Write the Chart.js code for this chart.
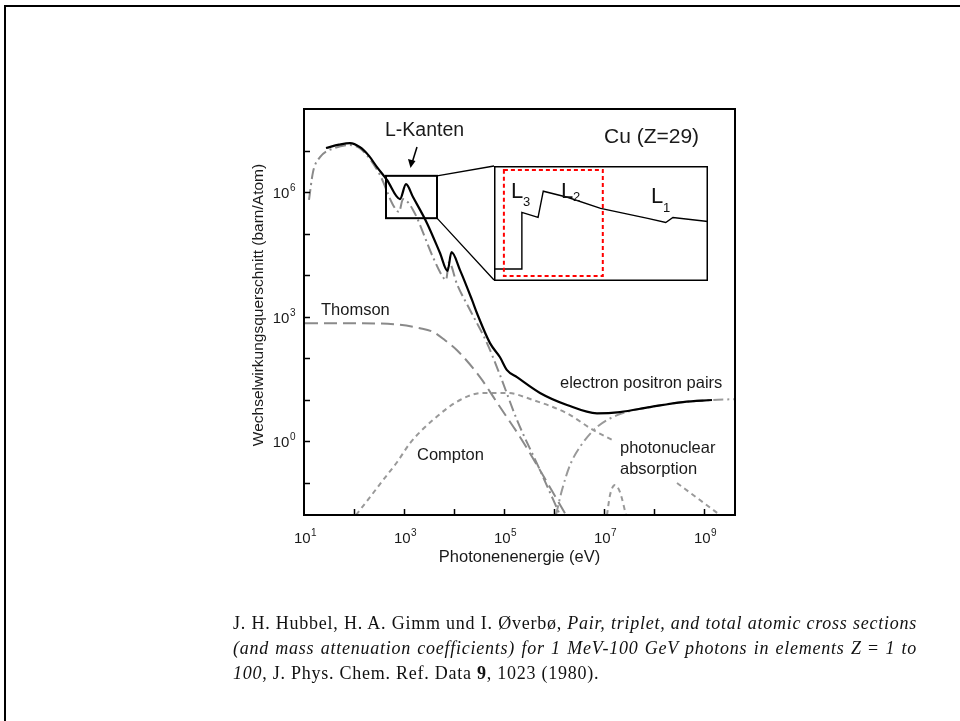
<!DOCTYPE html>
<html>
<head>
<meta charset="utf-8">
<script src="https://cdn.jsdelivr.net/npm/chart.js@4.4.0/dist/chart.umd.min.js"></script>
<style>
  html, body { margin: 0; padding: 0; background: #fff; }
  body { width: 960px; height: 721px; position: relative; overflow: hidden; }
  #page { position: absolute; left: 4px; top: 5px; width: 1000px; height: 1000px; border: 2px solid #000; }
  #main { position: absolute; left: 0; top: 0; }
  #inset { position: absolute; left: 494px; top: 166px; }
  #cite { position: absolute; left: 233px; top: 611px; width: 684px;
          font-family: "Liberation Serif", "Times New Roman", serif; font-size: 18px;
          letter-spacing: 0.75px; line-height: 25px; color: #111; }
  #cite .j { text-align: justify; text-align-last: justify; }
</style>
</head>
<body>
<div id="page"></div>
<canvas id="main" width="960" height="721"></canvas>
<canvas id="inset" width="214" height="115"></canvas>
<div id="cite">
  <div class="j">J. H. Hubbel, H. A. Gimm und I. Øverbø, <i>Pair, triplet, and total atomic cross sections</i></div>
  <div class="j"><i>(and mass attenuation coefficients) for 1 MeV-100 GeV photons in elements Z</i> = <i>1 to</i></div>
  <div><i>100</i>, J. Phys. Chem. Ref. Data <b>9</b>, 1023 (1980).</div>
</div>
<script>
// all values are log10 (energy in eV, cross section in barn/atom)
const xMin = 1, xMax = 9.62;
const yMin = -1.78, yMax = 8;
const xTickVals = [2, 3, 4, 5, 6, 7, 8, 9];
const xLabelVals = [1, 3, 5, 7, 9];
const yTickVals = [-1, 0, 1, 2, 3, 4, 5, 6, 7];
const yLabelVals = [0, 3, 6];

// total cross section (solid black)
const totalE = [1.44, 1.70, 1.92, 2.12, 2.30, 2.46, 2.66, 2.92, 3.04, 3.18, 3.46, 3.72, 3.87, 3.95, 4.12, 4.36, 4.46, 4.72, 4.92, 5.06, 5.26, 5.72, 6.26, 6.86, 7.32, 7.92, 8.58, 9.16];
const totalS = [7.06, 7.14, 7.18, 7.08, 6.87, 6.60, 6.29, 5.83, 6.19, 5.88, 5.25, 4.53, 4.10, 4.55, 4.12, 3.40, 3.08, 2.36, 2.02, 1.71, 1.54, 1.16, 0.87, 0.67, 0.70, 0.82, 0.94, 0.99];

// photo effect (dash-dot)
const photoE = [1.10, 1.18, 1.32, 1.62, 1.92, 2.16, 2.52, 2.78, 2.90, 2.98, 3.18, 3.58, 3.78, 3.84, 3.90, 4.06, 4.32, 4.66, 4.92, 5.26, 5.72, 6.12];
const photoS = [5.81, 6.48, 6.84, 7.06, 7.13, 7.01, 6.41, 5.69, 5.52, 5.83, 5.57, 4.43, 3.95, 3.88, 4.31, 3.78, 3.16, 2.36, 1.59, 0.51, -0.70, -1.78];

// Thomson / coherent (long dash)
const thomsonE = [1.02, 1.92, 2.92, 3.32, 3.58, 3.82, 4.06, 4.52, 4.92, 5.32, 5.72, 6.24];
const thomsonS = [2.84, 2.84, 2.80, 2.72, 2.63, 2.43, 2.19, 1.54, 0.82, 0.10, -0.70, -1.78];

// Compton (short dash), gap where the label sits
const comptonE = [2.04, 2.32, 2.58, 2.86, 3.12, 3.58, 4.12, 4.58, 5.06, 5.58, 6.26, 6.78, 7.18, 7.80, 8.46, 8.92, 9.32];
const comptonS = [-1.78, -1.35, -0.94, -0.51, -0.05, 0.51, 0.99, 1.16, 1.16, 0.99, 0.67, 0.27, 0.02, null, -1.01, -1.42, -1.78];

// electron positron pairs (dash-dot)
const pairE = [6.04, 6.16, 6.32, 6.52, 6.86, 7.32, 7.92, 8.58, 9.16, 9.62];
const pairS = [-1.78, -1.18, -0.58, -0.14, 0.34, 0.65, 0.82, 0.94, 0.99, 1.01];

// photonuclear absorption (short dash)
const nuclearE = [7.06, 7.12, 7.22, 7.32, 7.44];
const nuclearS = [-1.78, -1.30, -1.06, -1.23, -1.78];

// zoom box on the main plot (log10 E, log10 sigma)
const boxE = [2.64, 3.66];
const boxS = [5.37, 6.39];

// inset: L edges, linear energy (eV) and relative cross section
const insetE = [902, 932.2, 933, 951, 956.8, 983.6, 1020.6, 1073, 1093, 1101, 1140];
const insetS = [1.26, 1.26, 7.16, 6.63, 9.37, 8.74, 7.58, 6.53, 6.10, 6.63, 6.21];
const insetRedE = [913, 1023];
const insetRedS = [0.53, 11.58];

const SANS = '"Liberation Sans", Arial, sans-serif';

function pts(xs, ys) {
  return xs.map((x, i) => ({ x: x, y: ys[i] }));
}

function series(xs, ys, color, dash, width) {
  return {
    data: pts(xs, ys),
    showLine: true,
    borderColor: color,
    borderWidth: width,
    borderDash: dash,
    pointRadius: 0,
    fill: false,
    spanGaps: false,
    cubicInterpolationMode: 'monotone'
  };
}

function powLabel(ctx, exp, px, py, align) {
  ctx.font = '15px ' + SANS;
  const w1 = ctx.measureText('10').width;
  ctx.font = '10px ' + SANS;
  const w2 = ctx.measureText(String(exp)).width;
  const x0 = align === 'right' ? px - w1 - w2 : px - (w1 + w2) / 2;
  ctx.textAlign = 'left';
  ctx.textBaseline = 'alphabetic';
  ctx.font = '15px ' + SANS;
  ctx.fillText('10', x0, py);
  ctx.font = '10px ' + SANS;
  ctx.fillText(String(exp), x0 + w1 + 0.5, py - 7);
}

function text(ctx, s, x, y, size) {
  ctx.font = size + 'px ' + SANS;
  ctx.textAlign = 'left';
  ctx.textBaseline = 'alphabetic';
  ctx.fillText(s, x, y);
}

const framePlugin = {
  id: 'frame',
  afterDraw(chart) {
    const { ctx, chartArea: a, scales: { x, y } } = chart;
    ctx.save();
    ctx.strokeStyle = '#000';
    ctx.fillStyle = '#1a1a1a';
    ctx.setLineDash([]);

    // plot frame
    ctx.lineWidth = 2;
    ctx.strokeRect(a.left, a.top, a.right - a.left, a.bottom - a.top);

    // inward ticks
    ctx.lineWidth = 1.5;
    ctx.beginPath();
    yTickVals.forEach(v => {
      const py = Math.round(y.getPixelForValue(v)) + 0.5;
      ctx.moveTo(a.left, py); ctx.lineTo(a.left + 6, py);
    });
    xTickVals.forEach(v => {
      const px = Math.round(x.getPixelForValue(v)) + 0.5;
      ctx.moveTo(px, a.bottom); ctx.lineTo(px, a.bottom - 6);
    });
    ctx.stroke();

    // tick labels
    xLabelVals.forEach(v => powLabel(ctx, v, x.getPixelForValue(v) + 1, 543, 'center'));
    yLabelVals.forEach(v => powLabel(ctx, v, a.left - 9, y.getPixelForValue(v) + 6, 'right'));

    // axis titles
    ctx.font = '16.5px ' + SANS;
    ctx.textAlign = 'center';
    ctx.textBaseline = 'middle';
    ctx.fillText('Photonenenergie (eV)', (a.left + a.right) / 2, 557);
    ctx.save();
    ctx.translate(259, 305);
    ctx.rotate(-Math.PI / 2);
    ctx.font = '15.5px ' + SANS;
    ctx.fillText('Wechselwirkungsquerschnitt (barn/Atom)', 0, 0);
    ctx.restore();

    // zoom box and connectors to the inset
    const bx0 = x.getPixelForValue(boxE[0]), bx1 = x.getPixelForValue(boxE[1]);
    const by0 = y.getPixelForValue(boxS[1]), by1 = y.getPixelForValue(boxS[0]);
    ctx.lineWidth = 2;
    ctx.strokeRect(bx0, by0, bx1 - bx0, by1 - by0);
    ctx.lineWidth = 1.3;
    ctx.beginPath();
    ctx.moveTo(bx1, by0); ctx.lineTo(494, 166);
    ctx.moveTo(bx1, by1); ctx.lineTo(494, 280);
    ctx.stroke();

    // arrow to the L edges
    ctx.lineWidth = 1.5;
    ctx.beginPath();
    ctx.moveTo(417, 147); ctx.lineTo(412, 163);
    ctx.stroke();
    ctx.beginPath();
    ctx.moveTo(410.5, 168); ctx.lineTo(408, 159); ctx.lineTo(415.5, 161);
    ctx.closePath();
    ctx.fillStyle = '#000';
    ctx.fill();

    // annotations
    ctx.fillStyle = '#1a1a1a';
    text(ctx, 'L-Kanten', 385, 136, 19.5);
    text(ctx, 'Cu (Z=29)', 604, 143, 21);
    text(ctx, 'Thomson', 321, 315, 16.5);
    text(ctx, 'Compton', 417, 460, 16.5);
    text(ctx, 'electron positron pairs', 560, 388, 16.5);
    text(ctx, 'photonuclear', 620, 453, 16.5);
    text(ctx, 'absorption', 620, 474, 16.5);
    ctx.restore();
  }
};

new Chart(document.getElementById('main'), {
  type: 'scatter',
  data: {
    datasets: [
      series(totalE, totalS, '#000000', [], 2.2),
      series(photoE, photoS, '#8a8a8a', [11, 4, 2, 4], 2),
      series(thomsonE, thomsonS, '#8a8a8a', [13, 6], 2),
      series(comptonE, comptonS, '#999999', [5, 4], 2),
      series(pairE, pairS, '#999999', [10, 4, 2, 4], 2),
      series(nuclearE, nuclearS, '#999999', [5, 4], 2)
    ]
  },
  options: {
    responsive: false,
    animation: false,
    events: [],
    layout: { padding: { left: 304, right: 225, top: 109, bottom: 206 } },
    plugins: { legend: { display: false }, tooltip: { enabled: false } },
    scales: {
      x: { type: 'linear', min: xMin, max: xMax, display: false },
      y: { type: 'linear', min: yMin, max: yMax, display: false }
    }
  },
  plugins: [framePlugin]
});

const insetPlugin = {
  id: 'insetFrame',
  afterDraw(chart) {
    const { ctx, chartArea: a, scales: { x, y } } = chart;
    ctx.save();
    // red dashed region
    ctx.strokeStyle = '#ff0000';
    ctx.lineWidth = 2;
    ctx.setLineDash([4, 3]);
    const rx0 = x.getPixelForValue(insetRedE[0]), rx1 = x.getPixelForValue(insetRedE[1]);
    const ry0 = y.getPixelForValue(insetRedS[1]), ry1 = y.getPixelForValue(insetRedS[0]);
    ctx.strokeRect(rx0, ry0, rx1 - rx0, ry1 - ry0);
    ctx.setLineDash([]);
    // border
    ctx.strokeStyle = '#000';
    ctx.lineWidth = 1.5;
    ctx.strokeRect(0.75, 0.75, chart.width - 1.5, chart.height - 1.5);
    // edge labels
    ctx.fillStyle = '#111';
    text(ctx, 'L', 17, 32, 22); text(ctx, '3', 29, 40, 13);
    text(ctx, 'L', 67, 32, 22); text(ctx, '2', 79, 35, 13);
    text(ctx, 'L', 157, 37, 22); text(ctx, '1', 169, 46, 13);
    ctx.restore();
  }
};

new Chart(document.getElementById('inset'), {
  type: 'scatter',
  data: {
    datasets: [{
      data: pts(insetE, insetS),
      showLine: true,
      borderColor: '#000',
      borderWidth: 1.4,
      pointRadius: 0,
      tension: 0
    }]
  },
  options: {
    responsive: false,
    animation: false,
    events: [],
    layout: { padding: 0 },
    plugins: { legend: { display: false }, tooltip: { enabled: false } },
    scales: {
      x: { type: 'linear', min: 902, max: 1140, display: false },
      y: { type: 'linear', min: 0, max: 12, display: false }
    }
  },
  plugins: [insetPlugin]
});
</script>
</body>
</html>
